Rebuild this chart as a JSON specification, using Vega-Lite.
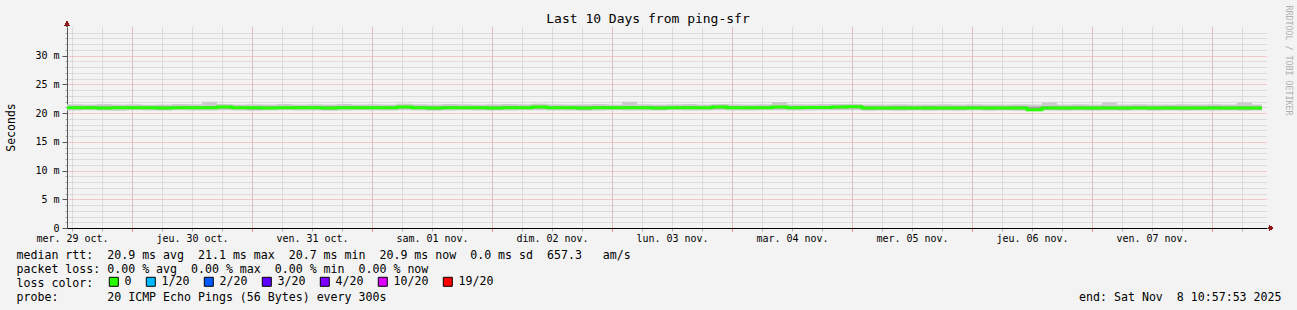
{
  "$schema": "https://vega.github.io/schema/vega-lite/v6.json",
  "width": 1200,
  "height": 201,
  "autosize": "none",
  "padding": {"left": 67, "top": 27, "right": 30, "bottom": 82},
  "background": "#f3f3f3",
  "title": {"text": "Last 10 Days from ping-sfr", "font": "DejaVu Sans Mono", "fontSize": 13, "fontWeight": "normal", "color": "#000000", "anchor": "middle", "frame": "group", "dx": -19, "offset": -21},
  "config": {"view": {"stroke": null}, "font": "DejaVu Sans Mono"},
  "data": {"values": [
    {"t": "2025-10-29T11:00:00Z", "med": 20.95, "lo": 20.45, "hi": 21.55, "lo2": 20.7, "hi2": 21.2, "loss": "0"},
    {"t": "2025-10-29T14:00:00Z", "med": 20.95, "lo": 20.5, "hi": 21.5, "lo2": 20.7, "hi2": 21.25, "loss": "0"},
    {"t": "2025-10-29T17:00:00Z", "med": 20.9, "lo": 20.45, "hi": 21.6, "lo2": 20.65, "hi2": 21.2, "loss": "0"},
    {"t": "2025-10-29T20:00:00Z", "med": 20.95, "lo": 20.4, "hi": 21.5, "lo2": 20.7, "hi2": 21.2, "loss": "0"},
    {"t": "2025-10-29T23:00:00Z", "med": 20.95, "lo": 20.5, "hi": 21.55, "lo2": 20.75, "hi2": 21.2, "loss": "0"},
    {"t": "2025-10-30T02:00:00Z", "med": 20.95, "lo": 20.45, "hi": 21.45, "lo2": 20.7, "hi2": 21.15, "loss": "0"},
    {"t": "2025-10-30T05:00:00Z", "med": 20.9, "lo": 20.45, "hi": 21.5, "lo2": 20.65, "hi2": 21.2, "loss": "0"},
    {"t": "2025-10-30T08:00:00Z", "med": 20.95, "lo": 20.5, "hi": 21.6, "lo2": 20.7, "hi2": 21.25, "loss": "0"},
    {"t": "2025-10-30T11:00:00Z", "med": 20.95, "lo": 20.45, "hi": 21.55, "lo2": 20.7, "hi2": 21.2, "loss": "0"},
    {"t": "2025-10-30T14:00:00Z", "med": 20.95, "lo": 20.45, "hi": 22.0, "lo2": 20.7, "hi2": 21.25, "loss": "0"},
    {"t": "2025-10-30T17:00:00Z", "med": 21.05, "lo": 20.5, "hi": 21.6, "lo2": 20.8, "hi2": 21.3, "loss": "0"},
    {"t": "2025-10-30T20:00:00Z", "med": 20.95, "lo": 20.45, "hi": 21.5, "lo2": 20.7, "hi2": 21.2, "loss": "0"},
    {"t": "2025-10-30T23:00:00Z", "med": 20.95, "lo": 20.4, "hi": 21.55, "lo2": 20.65, "hi2": 21.2, "loss": "0"},
    {"t": "2025-10-31T02:00:00Z", "med": 20.9, "lo": 20.45, "hi": 21.5, "lo2": 20.7, "hi2": 21.15, "loss": "0"},
    {"t": "2025-10-31T05:00:00Z", "med": 20.95, "lo": 20.5, "hi": 21.6, "lo2": 20.7, "hi2": 21.2, "loss": "0"},
    {"t": "2025-10-31T08:00:00Z", "med": 20.95, "lo": 20.45, "hi": 21.5, "lo2": 20.7, "hi2": 21.25, "loss": "0"},
    {"t": "2025-10-31T11:00:00Z", "med": 20.95, "lo": 20.45, "hi": 21.55, "lo2": 20.7, "hi2": 21.2, "loss": "0"},
    {"t": "2025-10-31T14:00:00Z", "med": 20.9, "lo": 20.4, "hi": 21.5, "lo2": 20.65, "hi2": 21.2, "loss": "0"},
    {"t": "2025-10-31T17:00:00Z", "med": 20.95, "lo": 20.45, "hi": 21.6, "lo2": 20.7, "hi2": 21.25, "loss": "0"},
    {"t": "2025-10-31T20:00:00Z", "med": 20.95, "lo": 20.5, "hi": 21.5, "lo2": 20.75, "hi2": 21.2, "loss": "0"},
    {"t": "2025-10-31T23:00:00Z", "med": 20.95, "lo": 20.45, "hi": 21.55, "lo2": 20.7, "hi2": 21.2, "loss": "0"},
    {"t": "2025-11-01T02:00:00Z", "med": 20.95, "lo": 20.45, "hi": 21.5, "lo2": 20.7, "hi2": 21.2, "loss": "0"},
    {"t": "2025-11-01T05:00:00Z", "med": 21.05, "lo": 20.5, "hi": 21.65, "lo2": 20.8, "hi2": 21.3, "loss": "0"},
    {"t": "2025-11-01T08:00:00Z", "med": 20.95, "lo": 20.45, "hi": 21.55, "lo2": 20.7, "hi2": 21.2, "loss": "0"},
    {"t": "2025-11-01T11:00:00Z", "med": 20.9, "lo": 20.4, "hi": 21.5, "lo2": 20.65, "hi2": 21.15, "loss": "0"},
    {"t": "2025-11-01T14:00:00Z", "med": 20.95, "lo": 20.45, "hi": 21.6, "lo2": 20.7, "hi2": 21.25, "loss": "0"},
    {"t": "2025-11-01T17:00:00Z", "med": 20.95, "lo": 20.5, "hi": 21.55, "lo2": 20.7, "hi2": 21.2, "loss": "0"},
    {"t": "2025-11-01T20:00:00Z", "med": 20.95, "lo": 20.45, "hi": 21.5, "lo2": 20.7, "hi2": 21.2, "loss": "0"},
    {"t": "2025-11-01T23:00:00Z", "med": 20.9, "lo": 20.45, "hi": 21.55, "lo2": 20.65, "hi2": 21.2, "loss": "0"},
    {"t": "2025-11-02T02:00:00Z", "med": 20.95, "lo": 20.45, "hi": 21.6, "lo2": 20.7, "hi2": 21.25, "loss": "0"},
    {"t": "2025-11-02T05:00:00Z", "med": 20.95, "lo": 20.5, "hi": 21.55, "lo2": 20.75, "hi2": 21.2, "loss": "0"},
    {"t": "2025-11-02T08:00:00Z", "med": 21.05, "lo": 20.5, "hi": 21.65, "lo2": 20.8, "hi2": 21.3, "loss": "0"},
    {"t": "2025-11-02T11:00:00Z", "med": 20.95, "lo": 20.45, "hi": 21.55, "lo2": 20.7, "hi2": 21.2, "loss": "0"},
    {"t": "2025-11-02T14:00:00Z", "med": 20.95, "lo": 20.45, "hi": 21.5, "lo2": 20.7, "hi2": 21.2, "loss": "0"},
    {"t": "2025-11-02T17:00:00Z", "med": 20.9, "lo": 20.4, "hi": 21.55, "lo2": 20.65, "hi2": 21.2, "loss": "0"},
    {"t": "2025-11-02T20:00:00Z", "med": 20.95, "lo": 20.45, "hi": 21.6, "lo2": 20.7, "hi2": 21.25, "loss": "0"},
    {"t": "2025-11-02T23:00:00Z", "med": 20.95, "lo": 20.5, "hi": 21.5, "lo2": 20.7, "hi2": 21.2, "loss": "0"},
    {"t": "2025-11-03T02:00:00Z", "med": 20.95, "lo": 20.45, "hi": 22.0, "lo2": 20.7, "hi2": 21.25, "loss": "0"},
    {"t": "2025-11-03T05:00:00Z", "med": 20.95, "lo": 20.45, "hi": 21.55, "lo2": 20.7, "hi2": 21.2, "loss": "0"},
    {"t": "2025-11-03T08:00:00Z", "med": 20.9, "lo": 20.45, "hi": 21.5, "lo2": 20.65, "hi2": 21.2, "loss": "0"},
    {"t": "2025-11-03T11:00:00Z", "med": 20.95, "lo": 20.5, "hi": 21.55, "lo2": 20.7, "hi2": 21.2, "loss": "0"},
    {"t": "2025-11-03T14:00:00Z", "med": 20.95, "lo": 20.45, "hi": 21.6, "lo2": 20.7, "hi2": 21.25, "loss": "0"},
    {"t": "2025-11-03T17:00:00Z", "med": 20.95, "lo": 20.45, "hi": 21.5, "lo2": 20.7, "hi2": 21.2, "loss": "0"},
    {"t": "2025-11-03T20:00:00Z", "med": 21.05, "lo": 20.5, "hi": 21.6, "lo2": 20.8, "hi2": 21.3, "loss": "0"},
    {"t": "2025-11-03T23:00:00Z", "med": 20.95, "lo": 20.45, "hi": 21.55, "lo2": 20.7, "hi2": 21.2, "loss": "0"},
    {"t": "2025-11-04T02:00:00Z", "med": 20.95, "lo": 20.45, "hi": 21.5, "lo2": 20.7, "hi2": 21.2, "loss": "0"},
    {"t": "2025-11-04T05:00:00Z", "med": 20.95, "lo": 20.5, "hi": 21.55, "lo2": 20.7, "hi2": 21.25, "loss": "0"},
    {"t": "2025-11-04T08:00:00Z", "med": 21.05, "lo": 20.5, "hi": 21.95, "lo2": 20.8, "hi2": 21.3, "loss": "0"},
    {"t": "2025-11-04T11:00:00Z", "med": 20.95, "lo": 20.45, "hi": 21.55, "lo2": 20.7, "hi2": 21.2, "loss": "0"},
    {"t": "2025-11-04T14:00:00Z", "med": 21.0, "lo": 20.45, "hi": 21.55, "lo2": 20.75, "hi2": 21.25, "loss": "0"},
    {"t": "2025-11-04T17:00:00Z", "med": 21.0, "lo": 20.5, "hi": 21.6, "lo2": 20.75, "hi2": 21.25, "loss": "0"},
    {"t": "2025-11-04T20:00:00Z", "med": 21.05, "lo": 20.5, "hi": 21.6, "lo2": 20.8, "hi2": 21.3, "loss": "0"},
    {"t": "2025-11-04T23:00:00Z", "med": 21.1, "lo": 20.5, "hi": 21.6, "lo2": 20.85, "hi2": 21.3, "loss": "0"},
    {"t": "2025-11-05T02:00:00Z", "med": 20.9, "lo": 20.4, "hi": 21.5, "lo2": 20.65, "hi2": 21.15, "loss": "0"},
    {"t": "2025-11-05T05:00:00Z", "med": 20.9, "lo": 20.45, "hi": 21.5, "lo2": 20.65, "hi2": 21.15, "loss": "0"},
    {"t": "2025-11-05T08:00:00Z", "med": 20.9, "lo": 20.4, "hi": 21.55, "lo2": 20.65, "hi2": 21.2, "loss": "0"},
    {"t": "2025-11-05T11:00:00Z", "med": 20.9, "lo": 20.45, "hi": 21.5, "lo2": 20.65, "hi2": 21.15, "loss": "0"},
    {"t": "2025-11-05T14:00:00Z", "med": 20.9, "lo": 20.4, "hi": 21.5, "lo2": 20.65, "hi2": 21.2, "loss": "0"},
    {"t": "2025-11-05T17:00:00Z", "med": 20.9, "lo": 20.45, "hi": 21.55, "lo2": 20.65, "hi2": 21.15, "loss": "0"},
    {"t": "2025-11-05T20:00:00Z", "med": 20.9, "lo": 20.4, "hi": 21.5, "lo2": 20.65, "hi2": 21.15, "loss": "0"},
    {"t": "2025-11-05T23:00:00Z", "med": 20.9, "lo": 20.45, "hi": 21.55, "lo2": 20.7, "hi2": 21.2, "loss": "0"},
    {"t": "2025-11-06T02:00:00Z", "med": 20.9, "lo": 20.4, "hi": 21.5, "lo2": 20.65, "hi2": 21.15, "loss": "0"},
    {"t": "2025-11-06T05:00:00Z", "med": 20.9, "lo": 20.45, "hi": 21.5, "lo2": 20.65, "hi2": 21.15, "loss": "0"},
    {"t": "2025-11-06T08:00:00Z", "med": 20.9, "lo": 20.4, "hi": 21.55, "lo2": 20.65, "hi2": 21.2, "loss": "0"},
    {"t": "2025-11-06T11:00:00Z", "med": 20.6, "lo": 20.35, "hi": 21.5, "lo2": 20.45, "hi2": 21.1, "loss": "0"},
    {"t": "2025-11-06T14:00:00Z", "med": 20.9, "lo": 20.45, "hi": 21.9, "lo2": 20.65, "hi2": 21.2, "loss": "0"},
    {"t": "2025-11-06T17:00:00Z", "med": 20.9, "lo": 20.4, "hi": 21.5, "lo2": 20.65, "hi2": 21.15, "loss": "0"},
    {"t": "2025-11-06T20:00:00Z", "med": 20.9, "lo": 20.45, "hi": 21.55, "lo2": 20.65, "hi2": 21.2, "loss": "0"},
    {"t": "2025-11-06T23:00:00Z", "med": 20.9, "lo": 20.4, "hi": 21.5, "lo2": 20.65, "hi2": 21.15, "loss": "0"},
    {"t": "2025-11-07T02:00:00Z", "med": 20.9, "lo": 20.45, "hi": 21.9, "lo2": 20.65, "hi2": 21.2, "loss": "0"},
    {"t": "2025-11-07T05:00:00Z", "med": 20.9, "lo": 20.4, "hi": 21.5, "lo2": 20.65, "hi2": 21.15, "loss": "0"},
    {"t": "2025-11-07T08:00:00Z", "med": 20.9, "lo": 20.45, "hi": 21.55, "lo2": 20.7, "hi2": 21.2, "loss": "0"},
    {"t": "2025-11-07T11:00:00Z", "med": 20.9, "lo": 20.4, "hi": 21.5, "lo2": 20.65, "hi2": 21.15, "loss": "0"},
    {"t": "2025-11-07T14:00:00Z", "med": 20.9, "lo": 20.45, "hi": 21.5, "lo2": 20.65, "hi2": 21.2, "loss": "0"},
    {"t": "2025-11-07T17:00:00Z", "med": 20.9, "lo": 20.4, "hi": 21.55, "lo2": 20.65, "hi2": 21.15, "loss": "0"},
    {"t": "2025-11-07T20:00:00Z", "med": 20.9, "lo": 20.45, "hi": 21.5, "lo2": 20.65, "hi2": 21.15, "loss": "0"},
    {"t": "2025-11-07T23:00:00Z", "med": 20.9, "lo": 20.4, "hi": 21.55, "lo2": 20.7, "hi2": 21.2, "loss": "0"},
    {"t": "2025-11-08T02:00:00Z", "med": 20.9, "lo": 20.45, "hi": 21.5, "lo2": 20.65, "hi2": 21.15, "loss": "0"},
    {"t": "2025-11-08T05:00:00Z", "med": 20.9, "lo": 20.4, "hi": 21.85, "lo2": 20.65, "hi2": 21.2, "loss": "0"},
    {"t": "2025-11-08T08:00:00Z", "med": 20.9, "lo": 20.45, "hi": 21.5, "lo2": 20.65, "hi2": 21.15, "loss": "0"},
    {"t": "2025-11-08T10:00:00Z", "med": 20.9, "lo": 20.45, "hi": 21.5, "lo2": 20.65, "hi2": 21.15, "loss": "0"}
  ]},
  "layer": [
    {
      "mark": {"type": "area", "interpolate": "step-after", "color": "#cbcbcb"},
      "encoding": {
        "x": {"field": "t", "type": "temporal",
          "scale": {"type": "utc", "nice": false, "domain": [1761735600000, 1762599600000]},
          "axis": {"orient": "bottom", "tickCount": 40, "grid": true, "gridColor": "#c4c4c4", "gridDash": [1, 1], "gridWidth": 1, "labels": false, "domain": false, "ticks": true, "tickColor": "#aaaaaa", "tickSize": 3, "title": null}},
        "y": {"field": "lo", "type": "quantitative",
          "scale": {"domain": [0, 35], "nice": false, "zero": true},
          "axis": {"orient": "left", "values": [1, 2, 3, 4, 6, 7, 8, 9, 11, 12, 13, 14, 16, 17, 18, 19, 21, 22, 23, 24, 26, 27, 28, 29, 31, 32, 33, 34], "grid": true, "gridColor": "#c4c4c4", "gridDash": [1, 1], "gridWidth": 1, "labels": false, "domain": false, "ticks": true, "tickColor": "#aaaaaa", "tickSize": 2, "title": null}},
        "y2": {"field": "hi"}
      }
    },
    {
      "mark": {"type": "area", "interpolate": "step-after", "color": "#9e9e9e"},
      "encoding": {
        "x": {"field": "t", "type": "temporal", "axis": null},
        "y": {"field": "lo2", "type": "quantitative", "axis": null},
        "y2": {"field": "hi2"}
      }
    },
    {
      "mark": {"type": "line", "interpolate": "step-after", "strokeWidth": 3, "color": "#26ff00"},
      "encoding": {
        "x": {"field": "t", "type": "temporal",
          "axis": {"orient": "bottom", "tickCount": 10, "grid": true, "gridColor": "#e8a0a0", "gridDash": [1, 1], "gridWidth": 1, "labels": false, "domain": false, "ticks": true, "tickColor": "#e08080", "tickSize": 3,
            "title": "end: Sat Nov\u00a0\u00a08 10:57:53 2025", "titleFont": "DejaVu Sans Mono", "titleFontSize": 11.6, "titleFontWeight": "normal", "titleColor": "#000000", "titleAlign": "right", "titleAnchor": "end", "titleBaseline": "alphabetic", "titleX": 1214, "titleY": 72}},
        "y": {"field": "med", "type": "quantitative",
          "axis": {"orient": "left", "values": [0, 5, 10, 15, 20, 25, 30], "grid": true, "gridColor": "#e8a0a0", "gridDash": [1, 1], "gridWidth": 1,
            "labelExpr": "datum.value == 0 ? '0' : datum.value + ' m'", "labelFont": "DejaVu Sans Mono", "labelFontSize": 10, "labelColor": "#000000", "labelPadding": 3,
            "domain": true, "domainColor": "#555555", "ticks": true, "tickColor": "#555555", "tickSize": 5,
            "title": "Seconds", "titleFont": "DejaVu Sans Mono", "titleFontSize": 11.5, "titleFontWeight": "normal", "titleColor": "#000000", "titleAngle": 270, "titleAlign": "center", "titleBaseline": "middle", "titleX": -56, "titleY": 100}}
      }
    },
    {
      "transform": [{"filter": "datum.loss == 'none'"}],
      "mark": {"type": "square", "filled": true, "stroke": "#000000", "strokeWidth": 1, "opacity": 1},
      "encoding": {
        "x": {"field": "t", "type": "temporal", "axis": null},
        "y": {"field": "med", "type": "quantitative", "axis": null},
        "color": {"field": "loss", "type": "nominal",
          "scale": {"domain": ["0", "1/20", "2/20", "3/20", "4/20", "10/20", "19/20"], "range": ["#26ff00", "#00b8ff", "#0059ff", "#5e00ff", "#7e00ff", "#dd00ff", "#ff0000"]},
          "legend": {"orient": "none", "legendX": 41, "legendY": 249, "direction": "horizontal", "title": null, "gridAlign": "none", "symbolType": "square", "symbolSize": 81, "symbolStrokeColor": "#000000", "symbolStrokeWidth": 1, "symbolOpacity": 1, "labelFont": "DejaVu Sans Mono", "labelFontSize": 11.6, "labelColor": "#000000", "labelOffset": 5, "columnPadding": 12, "padding": 0}
        }
      }
    },
    {
      "mark": {"type": "rule", "color": "#555555", "strokeWidth": 1},
      "encoding": {
        "x": {"datum": 1761735600000, "type": "temporal", "axis": null},
        "y": {"datum": 35, "type": "quantitative", "axis": null},
        "y2": {"datum": 35.7}
      }
    },
    {
      "mark": {"type": "point", "shape": "triangle-up", "filled": true, "size": 22, "color": "#8b1a1a", "opacity": 1},
      "encoding": {
        "x": {"datum": 1761735600000, "type": "temporal",
          "axis": {"orient": "bottom",
            "values": [1761739200000, 1761825600000, 1761912000000, 1761998400000, 1762084800000, 1762171200000, 1762257600000, 1762344000000, 1762430400000, 1762516800000],
            "labelExpr": "['dim.','lun.','mar.','mer.','jeu.','ven.','sam.'][utcday(datum.value)] + ' ' + utcFormat(datum.value, '%d') + ' ' + (utcmonth(datum.value) == 9 ? 'oct.' : 'nov.')",
            "labelFont": "DejaVu Sans Mono", "labelFontSize": 10, "labelColor": "#000000", "labelPadding": 5, "labelFlush": false, "labelOverlap": false, "labelBound": false,
            "grid": false, "ticks": false, "domain": true, "domainColor": "#000000", "domainWidth": 1,
            "title": ["median rtt:\u00a0\u00a020.9 ms avg\u00a0\u00a021.1 ms max\u00a0\u00a020.7 ms min\u00a0\u00a020.9 ms now\u00a0\u00a00.0 ms sd\u00a0\u00a0657.3\u00a0\u00a0\u00a0am/s", "packet loss: 0.00 % avg\u00a0\u00a00.00 % max\u00a0\u00a00.00 % min\u00a0\u00a00.00 % now", "loss color:", "probe:\u00a0\u00a0\u00a0\u00a0\u00a0\u00a0\u00a020 ICMP Echo Pings (56 Bytes) every 300s"],
            "titleFont": "DejaVu Sans Mono", "titleFontSize": 11.6, "titleFontWeight": "normal", "titleColor": "#000000", "titleAlign": "left", "titleAnchor": "start", "titleBaseline": "alphabetic", "titleLineHeight": 14, "titleX": -51, "titleY": 30}},
        "y": {"datum": 35.6, "type": "quantitative",
          "axis": {"orient": "right", "labels": false, "ticks": false, "domain": false, "grid": false,
            "title": "RRDTOOL / TOBI OETIKER", "titleFont": "DejaVu Sans Mono", "titleFontSize": 8.3, "titleFontWeight": "normal", "titleColor": "#b0b0b0", "titleAngle": 90, "titleAlign": "left", "titleBaseline": "middle", "titleX": 20, "titleY": -22}}
      }
    },
    {
      "mark": {"type": "point", "shape": "triangle-right", "filled": true, "size": 22, "color": "#8b1a1a", "opacity": 1},
      "encoding": {
        "x": {"datum": 1762602480000, "type": "temporal", "axis": null},
        "y": {"datum": 0, "type": "quantitative", "axis": null}
      }
    }
  ],
  "resolve": {"axis": {"x": "independent", "y": "independent"}}
}
